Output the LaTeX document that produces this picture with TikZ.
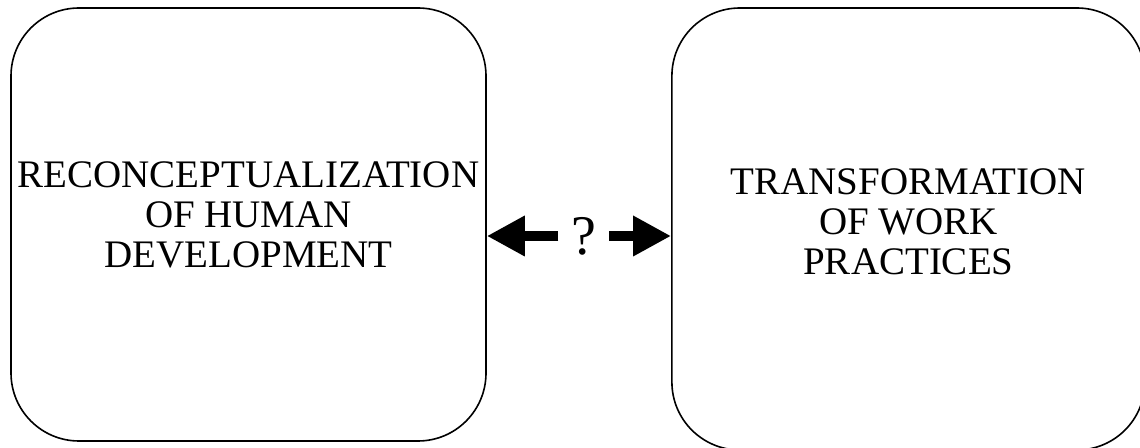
\documentclass[tikz,border=0pt]{standalone}
\usepackage{fontspec}
\setmainfont{Liberation Serif}
\usepackage{tikz}
\usetikzlibrary{positioning,arrows.meta}
\tikzstyle{stage} = [rectangle, rounded corners=34pt, minimum width=237.5pt, minimum height=216.5pt, text centered, align=center, draw=black, line width=0.8pt, font=\fontsize{19.5}{20}\selectfont]
\tikzstyle{qmark} = [minimum width=25pt, inner sep=0pt, font=\fontsize{28}{30}\selectfont]
\tikzstyle{bigarrow} = [line width=5pt, -{Triangle[length=19pt,width=19pt]}]
\begin{document}
\begin{tikzpicture}[x=0.5pt, y=-0.5pt]
\useasboundingbox (0,0) rectangle (1140,448);
\node (devel) [stage] at (248.5,224.5) {RECONCEPTUALIZATION\\OF HUMAN\\DEVELOPMENT\\[-10pt]};
\node (q) [qmark, right=35.75pt of devel, yshift=-5.75pt] {?};
\node (work) [stage, minimum width=236.5pt, minimum height=221pt, right=31pt of q, yshift=3.5pt] {TRANSFORMATION\\OF WORK\\PRACTICES\\[-12.5pt]};
\draw [bigarrow] (q.west) -- (devel.east |- q.west);
\draw [bigarrow] (q.east) -- (work.west |- q.east);
\end{tikzpicture}
\end{document}
